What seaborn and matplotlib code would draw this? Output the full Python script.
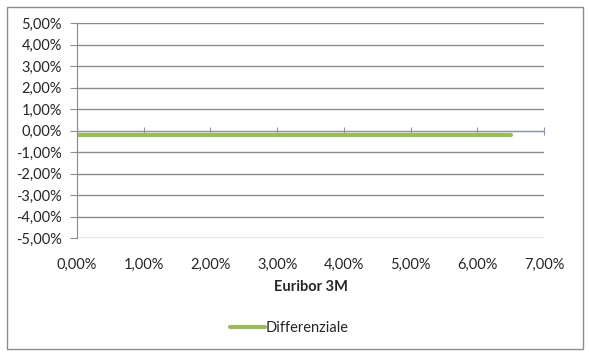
import numpy as np
import pandas as pd
import seaborn as sns
import matplotlib
matplotlib.use("Agg")
import matplotlib.pyplot as plt
from matplotlib.ticker import FuncFormatter
from matplotlib.patches import Rectangle

# dati (valori in %)
euribor_3m = [0.0, 0.5, 1.0, 1.5, 2.0, 2.5, 3.0, 3.5, 4.0, 4.5, 5.0, 5.5, 6.0, 6.5]
differenziale = [-0.19, -0.19, -0.19, -0.19, -0.19, -0.19, -0.19,
                 -0.19, -0.19, -0.19, -0.19, -0.19, -0.19, -0.19]
nome_serie = "Differenziale"
titolo_x = "Euribor 3M"

VERDE = "#9BBB59"
GRIGIO = "#8C8C8C"
FS = 10.5

df = pd.DataFrame({"x": euribor_3m, "y": differenziale, "serie": nome_serie})

sns.set_style("white")
plt.rcParams["font.family"] = ["Lato", "DejaVu Sans"]

fig = plt.figure(figsize=(5.89, 3.58), dpi=100)
ax = fig.add_axes([77 / 589, 1 - 238 / 358, (544 - 77) / 589, (238 - 23) / 358])

sns.lineplot(data=df, x="x", y="y", hue="serie", palette=[VERDE],
             linewidth=3, ax=ax)

ax.set_xlim(0, 7)
ax.set_ylim(-5, 5)
fmt = FuncFormatter(lambda v, p: f"{v:.2f}%".replace(".", ","))
ax.set_yticks(np.arange(-5, 6))
ax.yaxis.set_major_formatter(fmt)
ax.grid(axis="y", color=GRIGIO, linewidth=1)
ax.set_axisbelow(True)

# asse x incrociato a 0
for s in ["top", "right"]:
    ax.spines[s].set_visible(False)
ax.spines["left"].set_color(GRIGIO)
ax.spines["bottom"].set_position(("data", 0))
ax.spines["bottom"].set_color("#8A94A6")
ax.set_xticks(np.arange(0, 8))
ax.tick_params(axis="x", direction="inout", length=6, color="#8A94A6",
               labelbottom=False, bottom=True)
ax.tick_params(axis="y", direction="out", length=5, color=GRIGIO, left=True,
               labelsize=FS, pad=6)

sec = ax.secondary_xaxis("bottom")
sec.set_xticks(np.arange(0, 8))
sec.xaxis.set_major_formatter(fmt)
sec.spines["bottom"].set_visible(False)
sec.tick_params(length=0, labelsize=FS, pad=14)
sec.set_xlabel(titolo_x, fontweight="bold", fontsize=FS, labelpad=6)
ax.set_xlabel("")
ax.set_ylabel("")

leg = ax.legend(loc="center", bbox_to_anchor=(0.455, -0.42), frameon=False,
                fontsize=FS, handlelength=2.4, handletextpad=0.05)
for h in leg.get_lines():
    h.set_linewidth(3)

fig.patches.append(Rectangle((7 / 589, 1 - 349 / 358), (583 - 7) / 589,
                             (349 - 7) / 358, transform=fig.transFigure,
                             fill=False, edgecolor=GRIGIO, linewidth=1))

fig.savefig("out.png", dpi=100)
